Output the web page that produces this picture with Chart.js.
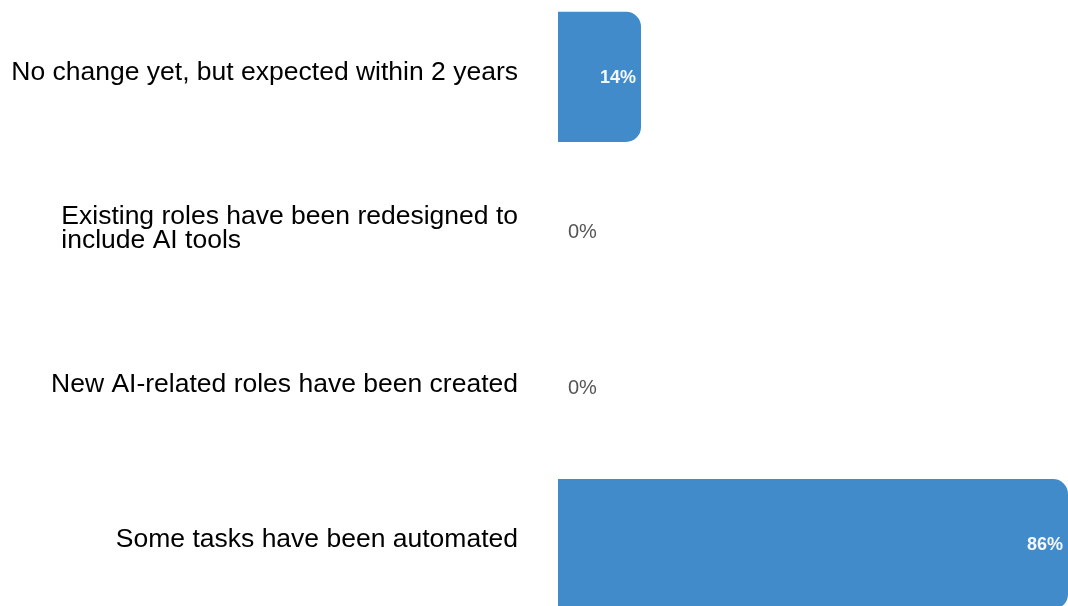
<!DOCTYPE html>
<html>
<head>
<meta charset="utf-8">
<title>AI impact on roles</title>
<script src="https://cdn.jsdelivr.net/npm/chart.js@4"></script>
<style>
    html, body { margin: 0; padding: 0; background: #fff; overflow: hidden; }
    #wrap { position: absolute; left: 0; top: -1px; width: 1068px; height: 623px; }
</style>
</head>
<body>
<div id="wrap"><canvas id="rolesChart"></canvas></div>
<script>
const categories = [
    'No change yet, but expected within 2 years',
    ['Existing roles have been redesigned to', 'include AI tools'],
    'New AI-related roles have been created',
    'Some tasks have been automated'
];
const shares = [14, 0, 0, 86];

const barColor = '#428bca';
const fontFamily = '"Liberation Sans", Arial, Helvetica, sans-serif';

// category names: each block sits right of a fixed gap, but its lines are left-aligned
const categoryLabels = {
    id: 'categoryLabels',
    afterDraw(chart) {
        const ctx = chart.ctx;
        const yScale = chart.scales.y;
        const right = chart.chartArea.left - 40;
        const lineHeight = 24;
        ctx.save();
        ctx.font = '26.5px ' + fontFamily;
        ctx.fillStyle = '#000';
        ctx.textAlign = 'left';
        ctx.textBaseline = 'middle';
        categories.forEach(function(label, i) {
            const lines = Array.isArray(label) ? label : [label];
            const widest = Math.max.apply(null, lines.map(l => ctx.measureText(l).width));
            const y = yScale.getPixelForValue(i) - 4;
            const top = y - (lines.length - 1) * lineHeight / 2;
            lines.forEach(function(line, k) {
                ctx.fillText(line, right - widest, top + k * lineHeight);
            });
        });
        ctx.restore();
    }
};

// writes the percentage at the end of each bar (or just past the axis when empty)
const valueLabels = {
    id: 'valueLabels',
    afterDatasetsDraw(chart) {
        const ctx = chart.ctx;
        const meta = chart.getDatasetMeta(0);
        ctx.save();
        ctx.textBaseline = 'middle';
        meta.data.forEach(function(bar, i) {
            const v = shares[i];
            const text = v + '%';
            if (v > 0) {
                ctx.font = '600 18px ' + fontFamily;
                ctx.fillStyle = '#f4f8fc';
                ctx.textAlign = 'right';
                ctx.fillText(text, bar.x - 5, bar.y + 1);
            } else {
                ctx.font = '20px ' + fontFamily;
                ctx.fillStyle = '#555';
                ctx.textAlign = 'left';
                ctx.fillText(text, bar.base + 10, bar.y);
            }
        });
        ctx.restore();
    }
};

new Chart(document.getElementById('rolesChart'), {
    type: 'bar',
    data: {
        labels: categories,
        datasets: [{
            data: shares,
            backgroundColor: barColor,
            borderWidth: 0,
            borderRadius: 15,
            borderSkipped: 'start',
            categoryPercentage: 1,
            barPercentage: 0.835
        }]
    },
    options: {
        indexAxis: 'y',
        responsive: true,
        maintainAspectRatio: false,
        animation: false,
        layout: { padding: 0 },
        plugins: {
            legend: { display: false },
            tooltip: { enabled: false }
        },
        scales: {
            x: {
                display: false,
                min: 0,
                max: 86
            },
            y: {
                grid: { display: false },
                border: { display: false },
                ticks: { display: false },
                afterFit: function(scale) {
                    // fixed label column, and no extra room above/below the bars
                    scale.width = 558;
                    scale.paddingTop = 0;
                    scale.paddingBottom = 0;
                }
            }
        }
    },
    plugins: [valueLabels, categoryLabels]
});
</script>
</body>
</html>
